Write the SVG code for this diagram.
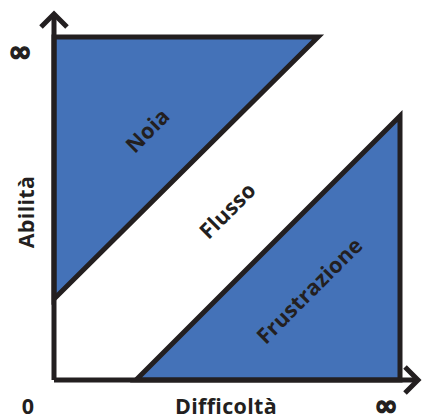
<svg xmlns="http://www.w3.org/2000/svg" width="424" height="419" viewBox="0 0 424 419">
<style>
.zone{fill:#4472b8;stroke:#231f20;stroke-width:5;stroke-linejoin:miter}
.axis{fill:none;stroke:#231f20;stroke-width:5}
text{font-family:"Open Sans","Liberation Sans",sans-serif;font-weight:700;fill:#231f20;text-anchor:middle}
.lbl{font-size:21.5px;letter-spacing:0.3px}
.inf{font-family:"DejaVu Sans",sans-serif;font-size:28px;font-weight:700;stroke:#231f20;stroke-width:1.4}
</style>
<rect width="424" height="419" fill="#ffffff"/>
<g id="noia">
<polygon class="zone" points="54,37 318,37 54,299"/>
<text class="lbl" transform="translate(148,131) rotate(-45)" dy="7">Noia</text>
</g>
<g id="flusso">
<text class="lbl" transform="translate(228,211) rotate(-45)" dy="7">Flusso</text>
</g>
<g id="frustrazione">
<polygon class="zone" points="136,380 400,116 400,380"/>
<text class="lbl" transform="translate(310,291) rotate(-45)" dy="7">Frustrazione</text>
</g>
<g id="connectors">
<polyline class="axis" points="54,380 54,14"/>
<polyline class="axis" points="41,27 54,14 67,27"/>
<polyline class="axis" points="54,380 418,380"/>
<polyline class="axis" points="405,367 418,380 405,393"/>
</g>
<g id="labels">
<text class="lbl" transform="translate(27,212) rotate(-90)" dy="7">Abilità</text>
<text class="inf" x="20" y="61">∞</text>
<text class="lbl" x="28" y="414">0</text>
<text class="lbl" x="226" y="414">Difficoltà</text>
<text class="inf" x="386" y="415">∞</text>
</g>
</svg>
